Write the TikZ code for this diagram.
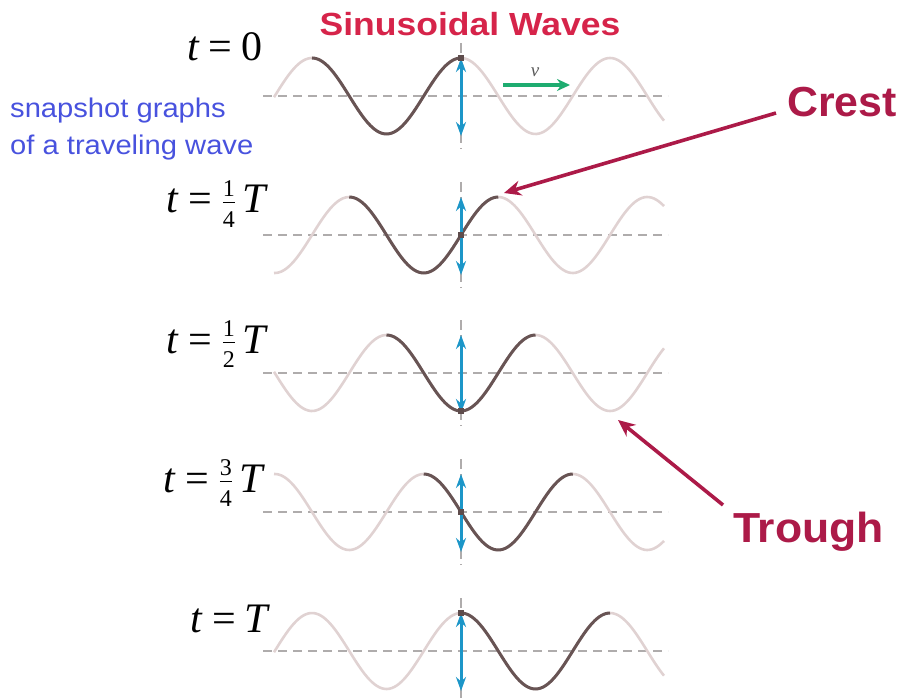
\RequirePackage{fix-cm}
\documentclass[tikz,border=0pt]{standalone}
\usepackage{fontspec}
\usepackage{amsmath}
\usepackage{graphicx}
\setmainfont{Liberation Serif}
\setsansfont{Liberation Sans}
\usetikzlibrary{arrows.meta}
\definecolor{titlered}{RGB}{214,36,74}
\definecolor{labelred}{RGB}{172,26,72}
\definecolor{snapblue}{RGB}{72,82,222}
\definecolor{lightwave}{RGB}{224,210,210}
\definecolor{darkwave}{RGB}{104,84,84}
\definecolor{axisgray}{RGB}{175,172,172}
\definecolor{arrowblue}{RGB}{28,150,200}
\definecolor{vgreen}{RGB}{30,172,112}
\newcommand{\wfrac}[2]{$\genfrac{}{}{0.7pt}{}{\text{\fontsize{24}{24}\selectfont #1}}{\text{\fontsize{24}{24}\selectfont #2}}$}
\newcommand{\eqsp}{\hspace{0.22em}=\hspace{0.22em}}
\tikzset{
  axisline/.style={draw=axisgray,line width=1.4pt,dash pattern=on 9pt off 6pt},
  vline/.style={draw=axisgray,line width=1.2pt,dash pattern=on 10pt off 5pt},
  lightcurve/.style={draw=lightwave,line width=2.6pt},
  darkcurve/.style={draw=darkwave,line width=3pt},
  bluearrow/.style={draw=arrowblue,line width=3pt,{Stealth[length=14pt,width=10pt]}-{Stealth[length=14pt,width=10pt]}},
  redarrow/.style={draw=labelred,line width=3.6pt,-{Stealth[length=17pt,width=15pt]}},
  tlabel/.style={font=\fontsize{42}{50}\selectfont,anchor=base east,inner sep=0pt},
  marklbl/.style={font=\sffamily\bfseries\fontsize{42}{50}\selectfont,text=labelred,anchor=base west,inner sep=0pt},
  snaplbl/.style={font=\sffamily\fontsize{27}{32}\selectfont,text=snapblue,anchor=base west,inner sep=0pt},
  pointmark/.style={fill=darkwave!90!black,minimum size=6pt,inner sep=0pt}
}
\begin{document}
\begin{tikzpicture}[x=1pt,y=-1pt]
\useasboundingbox (0,0) rectangle (901,700);
% title
\node[font=\sffamily\bfseries\fontsize{32}{38}\selectfont,text=titlered,anchor=base,inner sep=0pt] (title) at (470,36) {\scalebox{1.11}[1]{Sinusoidal Waves}};
% side text
\node[snaplbl] (snap1) at (10,118) {\scalebox{1.08}[1]{snapshot graphs}};
\node[snaplbl] (snap2) at (10,155) {\scalebox{1.08}[1]{of a traveling wave}};
% time labels
\node[tlabel] (t0) at (263,61) {\textit{t}\eqsp 0};
\node[tlabel] (t1) at (269,213) {\textit{t}\eqsp\wfrac{1}{4}\,\textit{T}};
\node[tlabel] (t2) at (269,353) {\textit{t}\eqsp\wfrac{1}{2}\,\textit{T}};
\node[tlabel] (t3) at (266,492) {\textit{t}\eqsp\wfrac{3}{4}\,\textit{T}};
\node[tlabel] (t4) at (271,632) {\textit{t}\eqsp\textit{T}};
% panels
\foreach \k/\ay in {0/96,1/235,2/373,3/512,4/651} {
  \pgfmathsetmacro\xo{461+37.25*\k}
  \pgfmathsetmacro\xs{\xo-149}
  \pgfmathsetmacro\yp{\ay-38*cos(2.41611*(461-\xo))}
  \draw[axisline] (263,\ay) -- (668,\ay);
  \draw[vline] (461,\ay-53) -- (461,\ay+53);
  \draw[lightcurve] plot[domain=274:664,samples=160,smooth] (\x,{\ay-38*cos(2.41611*(\x-\xo))});
  \draw[darkcurve] plot[domain=\xs:\xo,samples=70,smooth] (\x,{\ay-38*cos(2.41611*(\x-\xo))});
  \coordinate (up\k) at (461,\ay-38);
  \coordinate (dn\k) at (461,\ay+40);
  \draw[bluearrow] (up\k) -- (dn\k);
  \node[pointmark] (pt\k) at (461,\yp) {};
}
% velocity arrow
\coordinate (vs) at (503,85);
\coordinate (ve) at (570,85);
\draw[draw=vgreen,line width=3.6pt,-{Stealth[length=13pt,width=12pt]}] (vs) -- (ve);
\node[font=\fontsize{19}{20}\selectfont,text=black!65,inner sep=0pt] (vlbl) at (535,72) {\textit{v}};
% crest and trough
\node[marklbl] (crest) at (787,117) {\scalebox{1.02}[1]{Crest}};
\node[marklbl] (trough) at (733,542) {\scalebox{1.06}[1]{Trough}};
\coordinate (crestTail) at (776,113);
\coordinate (crestTip) at (504,193);
\coordinate (troughTail) at (723,505);
\coordinate (troughTip) at (618,420);
\draw[redarrow] (crestTail) -- (crestTip);
\draw[redarrow] (troughTail) -- (troughTip);
\end{tikzpicture}
\end{document}
